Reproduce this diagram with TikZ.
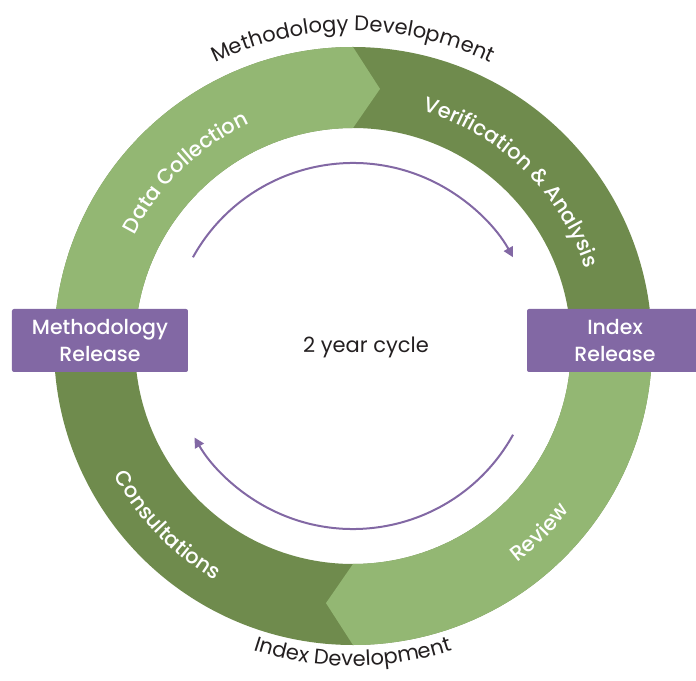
\documentclass[tikz,border=0pt]{standalone}
\usepackage{fontspec}
\setmainfont{Poppins}
\newfontfamily\medfont{Poppins Medium}
\usepackage{tikz}
\usetikzlibrary{arrows.meta,decorations.text,positioning}
\definecolor{lightleaf}{HTML}{93B773}
\definecolor{darkleaf}{HTML}{6F8B4D}
\definecolor{plum}{HTML}{8268A4}
\definecolor{ink}{HTML}{231F20}
\newcommand{\ringfont}{\medfont\fontsize{21}{21}\selectfont}
\newcommand{\rimfont}{\fontsize{21}{21}\selectfont}
\tikzset{
    %Define style for release boxes
    release/.style={
           rectangle,
           rounded corners=2pt,
           fill=plum,
           text=white,
           minimum width=176pt,
           minimum height=63pt,
           align=center,
           font=\medfont\fontsize{20.5}{27}\selectfont},
    %Define style for plain labels
    caption/.style={
           text=ink,
           font=\rimfont},
    %Define style for cycle arrows
    cyc/.style={
           -{Triangle[length=10pt,width=10pt]},
           draw=plum,
           line width=2pt},
    %Define style for text on the ring
    curved/.style={
           decorate,
           decoration={text along path, text align=center, text={#1}}}
}
\begin{document}
\begin{tikzpicture}[x=1pt,y=1pt]
 \useasboundingbox (-353,-334) rectangle (343,346);

 %ring
 \fill[darkleaf, even odd rule] (0,0) circle[radius=299pt] (0,0) circle[radius=218pt];
 \fill[lightleaf] (180:299pt) arc[start angle=180,end angle=90,radius=299pt]
    -- (84:258.5pt) -- (90:218pt) arc[start angle=90,end angle=180,radius=218pt] -- cycle;
 \fill[lightleaf] (0:299pt) arc[start angle=0,end angle=-90,radius=299pt]
    -- (-96:258.5pt) -- (-90:218pt) arc[start angle=-90,end angle=0,radius=218pt] -- cycle;

 %text on the ring
 \path[curved={|\color{white}\ringfont|Data Collection}]
    (174:245pt) arc[start angle=174,end angle=94,radius=245pt];
 \path[curved={|\color{white}\ringfont|Verification {\&} Analysis}]
    (100:245pt) arc[start angle=100,end angle=-8,radius=245pt];
 \path[curved={|\color{white}\ringfont|Consultations}]
    (182:272pt) arc[start angle=182,end angle=266,radius=272pt];
 \path[curved={|\color{white}\ringfont|Review}]
    (285:272pt) arc[start angle=285,end angle=345,radius=272pt];

 %text round the ring
 \path[curved={|\color{ink}\rimfont|Methodology Development}]
    (128:315pt) arc[start angle=128,end angle=52,radius=315pt];
 \path[curved={|\color{ink}\rimfont|Index Development}]
    (232:320pt) arc[start angle=232,end angle=308,radius=320pt];

 %nodes
 \node[release](methrel) at (-253,5.5){Methodology\\Release};
 \node[release](idxrel) at (262,5.5){Index\\Release};
 \node[caption](cycle) at (13,-1){2 year cycle};

 %arrows
 \draw[cyc] (151:183pt) arc[start angle=151,end angle=29,radius=183pt];
 \draw[cyc] (-29:183pt) arc[start angle=-29,end angle=-150,radius=183pt];

\end{tikzpicture}
\end{document}
